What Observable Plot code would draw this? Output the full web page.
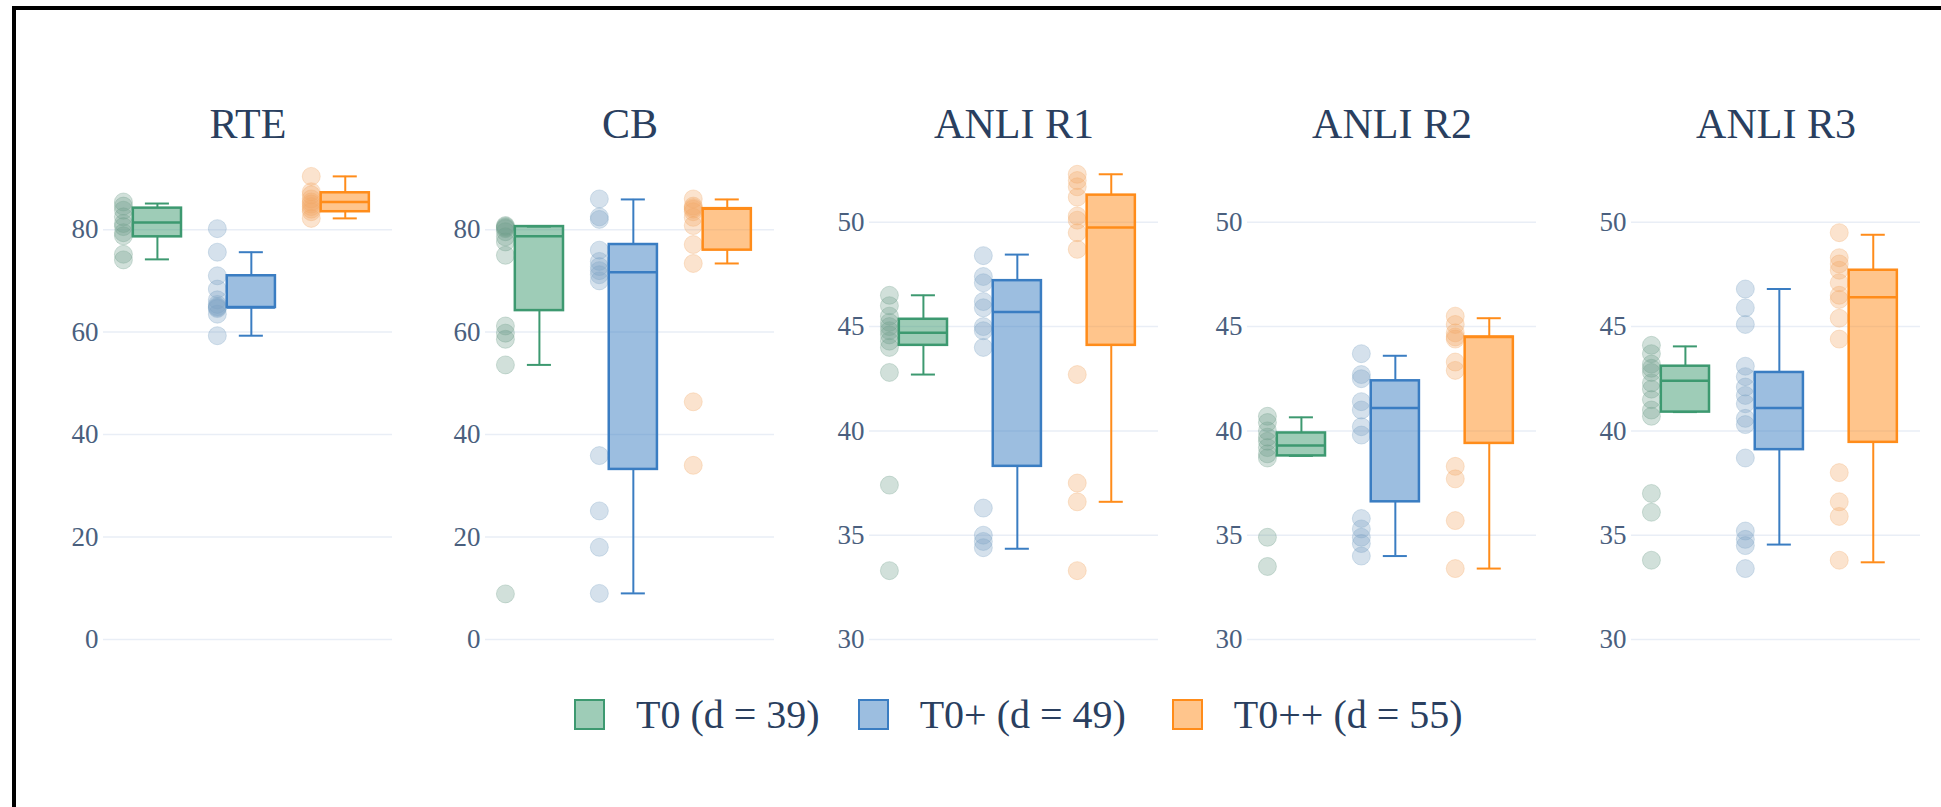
<!DOCTYPE html>
<html><head><meta charset="utf-8">
<script src="https://cdn.jsdelivr.net/npm/d3@7"></script>
<script src="https://cdn.jsdelivr.net/npm/@observablehq/plot@0.6"></script>
<style>
html,body{margin:0;padding:0;background:#fff;}
body{width:1941px;height:807px;overflow:hidden;position:relative;font-family:"Liberation Serif","DejaVu Serif",serif;}
#frame{position:absolute;left:12px;top:6px;width:2000px;height:900px;border-left:4px solid #000;border-top:4px solid #000;}
.panel{position:absolute;top:0;}
#legend{position:absolute;left:574px;top:688px;height:52px;display:flex;align-items:center;font-size:40px;color:#2a3f5f;}
.item{display:flex;align-items:center;}
.item1{margin-right:38px;}
.item2{margin-right:46px;}
.sw{width:27px;height:27px;border:2px solid;margin-right:31px;}
</style></head>
<body>
<div id="frame"></div>
<div id="charts"></div>
<div id="legend"></div>
<script>
const datasets = ["RTE", "CB", "ANLI R1", "ANLI R2", "ANLI R3"];
const groups = ["T0 (d = 39)", "T0+ (d = 49)", "T0++ (d = 55)"];
const lineColors = ["#3d9970", "#3a7dc2", "#ff8c1a"];
const pointColors = ["#6fa08c", "#7ba3c4", "#f2a866"];
const ticksWide = [0, 20, 40, 60, 80];
const ticksAnli = [30, 35, 40, 45, 50];

// individual runs per group: [T0, T0+, T0++]
const rtePoints = [
  [85.4, 84.6, 83.8, 82.5, 81.2, 80.6, 79.4, 78.8, 75.2, 74.1],
  [80.2, 75.6, 71.0, 68.4, 66.3, 65.4, 65.0, 64.8, 64.6, 63.5, 59.3],
  [90.4, 87.4, 86.8, 86.0, 85.4, 85.0, 84.5, 84.0, 83.5, 82.2]
];
const cbPoints = [
  [80.8, 80.6, 80.4, 80.2, 79.6, 78.6, 77.6, 75.0, 61.2, 59.8, 58.6, 53.6, 8.9],
  [86.0, 82.5, 82.0, 76.0, 73.8, 72.8, 72.0, 71.2, 70.0, 35.9, 25.1, 18.0, 9.0],
  [86.0, 84.6, 84.3, 84.0, 83.5, 82.4, 80.8, 77.1, 73.4, 46.4, 34.0]
];
const r1Points = [
  [46.5, 46.0, 45.5, 45.2, 45.0, 44.8, 44.6, 44.3, 44.0, 42.8, 37.4, 33.3],
  [48.4, 47.4, 47.1, 46.2, 45.9, 45.0, 44.8, 44.0, 36.3, 35.0, 34.7, 34.4],
  [52.3, 52.0, 51.7, 51.2, 50.3, 50.1, 49.5, 48.7, 42.7, 37.5, 36.6, 33.3]
];
const r2Points = [
  [40.7, 40.4, 40.0, 39.7, 39.5, 39.2, 38.9, 38.7, 34.9, 33.5],
  [43.7, 42.7, 42.5, 41.4, 41.0, 40.2, 39.8, 35.8, 35.3, 34.9, 34.6, 34.0],
  [45.5, 45.1, 44.7, 44.5, 44.4, 43.3, 42.9, 38.3, 37.7, 35.7, 33.4]
];
const r3Points = [
  [44.1, 43.7, 43.2, 43.0, 42.8, 42.3, 42.0, 41.5, 41.0, 40.7, 37.0, 36.1, 33.8],
  [46.8, 45.9, 45.1, 43.1, 42.6, 42.1, 41.7, 41.3, 40.6, 40.3, 38.7, 35.2, 34.8, 34.5, 33.4],
  [49.5, 48.3, 48.0, 47.7, 47.1, 46.5, 46.3, 45.4, 44.4, 38.0, 36.6, 35.9, 33.8]
];

// box statistics per group: [lower whisker, q1, median, q3, upper whisker]
const rteBoxes = [[74.2, 78.6, 81.4, 84.2, 85.1], [59.3, 64.8, 64.8, 71.0, 75.6], [82.2, 83.5, 85.4, 87.2, 90.4]];
const cbBoxes  = [[53.6, 64.2, 78.7, 80.6, 80.6], [9.0, 33.2, 71.7, 77.1, 85.9], [73.4, 76.0, 84.1, 84.1, 85.9]];
const r1Boxes  = [[42.7, 44.1, 44.7, 45.35, 46.5], [34.35, 38.3, 45.7, 47.2, 48.45], [36.6, 44.1, 49.75, 51.3, 52.3]];
const r2Boxes  = [[38.8, 38.8, 39.3, 39.9, 40.65], [34.0, 36.6, 41.1, 42.4, 43.6], [33.4, 39.4, 44.5, 44.5, 45.4]];
const r3Boxes  = [[40.9, 40.9, 42.4, 43.1, 44.05], [34.55, 39.1, 41.1, 42.8, 46.8], [33.7, 39.45, 46.4, 47.7, 49.4]];

const panels = [
  {title: datasets[0], points: rtePoints, boxes: rteBoxes, ticks: ticksWide, domain: [0, 93.5]},
  {title: datasets[1], points: cbPoints,  boxes: cbBoxes,  ticks: ticksWide, domain: [0, 93.5]},
  {title: datasets[2], points: r1Points,  boxes: r1Boxes,  ticks: ticksAnli, domain: [30, 52.96]},
  {title: datasets[3], points: r2Points,  boxes: r2Boxes,  ticks: ticksAnli, domain: [30, 52.96]},
  {title: datasets[4], points: r3Points,  boxes: r3Boxes,  ticks: ticksAnli, domain: [30, 52.96]}
];

const plotLefts = [103, 485, 869, 1247, 1631];
const plotWidth = 289;
const mL = 60;
const HW = 0.2565, CAP = 0.128, PT = -0.362;

const charts = document.getElementById("charts");
panels.forEach((p, k) => {
  const boxRows = p.boxes.map((b, g) => ({g, lo: b[0], q1: b[1], med: b[2], q3: b[3], hi: b[4], c: lineColors[g]}));
  const ptRows = p.points.flatMap((arr, g) => arr.map(v => ({g, v, c: pointColors[g]})));
  const chart = Plot.plot({
    width: plotWidth + mL,
    height: 651,
    marginLeft: mL,
    marginRight: 0,
    marginTop: 160,
    marginBottom: 12,
    x: {domain: [-0.574, 2.503], axis: null},
    y: {domain: p.domain},
    color: {type: "identity"},
    style: {fontFamily: "'Liberation Serif', 'DejaVu Serif', serif", color: "#4a5f7e", background: "transparent", overflow: "visible"},
    marks: [
      Plot.gridY(p.ticks, {stroke: "#e9eef6", strokeOpacity: 1, strokeWidth: 1.5}),
      Plot.axisY(p.ticks, {tickSize: 0, tickPadding: 5, fontSize: 27}),
      Plot.dot(ptRows, {x: d => d.g + PT, y: "v", r: 9, fill: "c", fillOpacity: 0.32, stroke: "c", strokeOpacity: 0.3, strokeWidth: 1}),
      Plot.ruleX(boxRows, {x: "g", y1: "lo", y2: "q1", stroke: "c", strokeWidth: 2}),
      Plot.ruleX(boxRows, {x: "g", y1: "q3", y2: "hi", stroke: "c", strokeWidth: 2}),
      Plot.ruleY(boxRows, {y: "lo", x1: d => d.g - CAP, x2: d => d.g + CAP, stroke: "c", strokeWidth: 2}),
      Plot.ruleY(boxRows, {y: "hi", x1: d => d.g - CAP, x2: d => d.g + CAP, stroke: "c", strokeWidth: 2}),
      Plot.rect(boxRows, {x1: d => d.g - HW, x2: d => d.g + HW, y1: "q1", y2: "q3", fill: "c", fillOpacity: 0.5, stroke: "c", strokeWidth: 2.5}),
      Plot.ruleY(boxRows, {y: "med", x1: d => d.g - HW, x2: d => d.g + HW, stroke: "c", strokeWidth: 2.5}),
      Plot.text([p.title], {text: d => d, frameAnchor: "top", dy: -23, lineAnchor: "bottom", fontSize: 42, fill: "#2a3f5f"})
    ]
  });
  chart.classList.add("panel");
  chart.style.left = (plotLefts[k] - mL) + "px";
  charts.appendChild(chart);
});

const legend = document.getElementById("legend");
groups.forEach((g, i) => {
  const item = document.createElement("div");
  item.className = "item item" + (i + 1);
  const sw = document.createElement("div");
  sw.className = "sw";
  sw.style.borderColor = lineColors[i];
  sw.style.background = d3.color(lineColors[i]).copy({opacity: 0.5}).formatRgb();
  const t = document.createElement("span");
  t.textContent = g;
  item.appendChild(sw);
  item.appendChild(t);
  legend.appendChild(item);
});
</script>
</body></html>
